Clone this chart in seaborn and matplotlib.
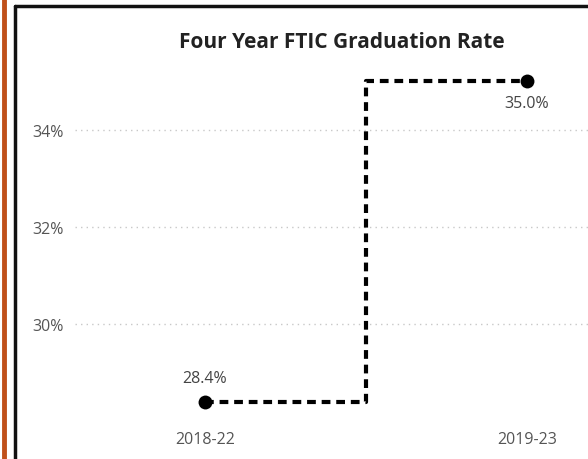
import matplotlib
matplotlib.use("Agg")
import matplotlib.pyplot as plt
import seaborn as sns
import pandas as pd
from matplotlib.lines import Line2D

cohorts = ["2018-22", "2019-23"]
rates = [28.4, 35.0]
rate_labels = ["28.4%", "35.0%"]
y_ticks = [30, 32, 34]
y_tick_labels = ["30%", "32%", "34%"]

sns.set_theme(style="white")
plt.rcParams['font.family'] = ['Open Sans', 'DejaVu Sans']

W, H = 588, 460
fig = plt.figure(figsize=(W/100, H/100), dpi=100)
ax = fig.add_axes([75/W, 1-420/H, (W-75)/W, (420-60)/H])

df = pd.DataFrame({"x": [0, 1], "rate": rates})
sns.lineplot(data=df, x="x", y="rate", ax=ax, color="black", linewidth=3,
             drawstyle="steps-mid", linestyle=(0, (2.1, 1.4)),
             marker="o", markersize=10, markeredgewidth=0)

ax.set_xlim(-0.404, 1.19)
ax.set_ylim(28.04, 35.46)
ax.set_xticks([0, 1])
ax.set_xticklabels(cohorts)
ax.set_yticks(y_ticks)
ax.set_yticklabels(y_tick_labels)
ax.tick_params(axis="both", length=0, labelsize=11.5, colors="#555555", pad=8)
ax.tick_params(axis="x", pad=9)
ax.set_xlabel("")
ax.set_ylabel("")
for s in ax.spines.values():
    s.set_visible(False)
ax.yaxis.grid(True, linestyle=(0, (1, 3)), color="#C8C8C8", linewidth=1)
ax.xaxis.grid(False)

ax.annotate(rate_labels[0], (0, rates[0]), xytext=(0, 11), textcoords="offset points",
            ha="center", va="bottom", fontsize=11.5, color="#444444")
ax.annotate(rate_labels[1], (1, rates[1]), xytext=(0, -10), textcoords="offset points",
            ha="center", va="top", fontsize=11.5, color="#444444")

fig.text(342/W, 1-42/H, "Four Year FTIC Graduation Rate", ha="center", va="center",
         fontsize=15, fontweight="bold", color="#222222")

# decorations
fig.add_artist(Line2D([4/W, 4/W], [0, 1], transform=fig.transFigure, color="#C0501A", linewidth=3.5))
fig.add_artist(Line2D([14.5/W, 14.5/W], [0, 1-7/H], transform=fig.transFigure, color="#111111", linewidth=2.5))
fig.add_artist(Line2D([14.5/W, 1], [1-7/H, 1-7/H], transform=fig.transFigure, color="#111111", linewidth=2.5))

fig.savefig("out.png", dpi=100)
